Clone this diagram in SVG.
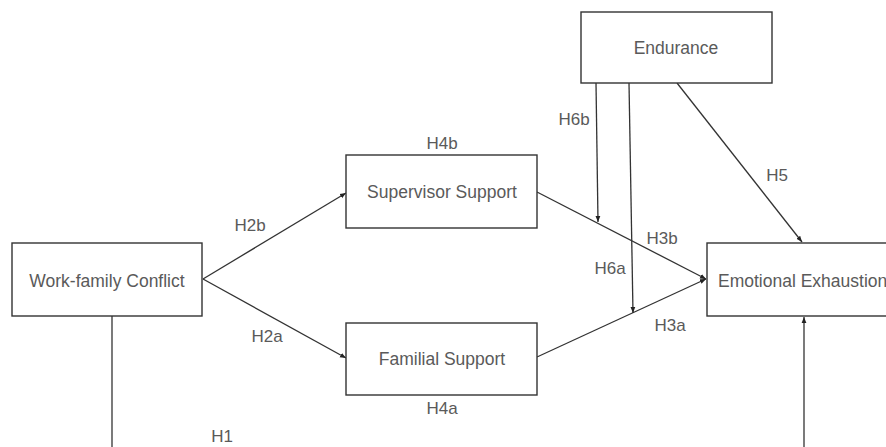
<svg xmlns="http://www.w3.org/2000/svg" width="886" height="447" viewBox="0 0 886 447">
<defs>
<marker id="ah" viewBox="0 0 10 10" refX="10" refY="5" markerWidth="6" markerHeight="6" orient="auto" markerUnits="userSpaceOnUse">
<path d="M0,1 L10,5 L0,9 Z" fill="#222"/>
</marker>
<style>
.box{fill:#fff;stroke:#333;stroke-width:1.4}
.nt{font-family:"Liberation Sans",Arial,sans-serif;font-size:17.5px;fill:#5a5a5a;text-anchor:middle;dominant-baseline:central}
.lb{font-family:"Liberation Sans",Arial,sans-serif;font-size:17px;fill:#5a5a5a;text-anchor:middle;dominant-baseline:central}
.ln{fill:none;stroke:#333;stroke-width:1.3}
.ar{fill:none;stroke:#333;stroke-width:1.3;marker-end:url(#ah)}
</style>
</defs>
<rect width="886" height="447" fill="#fff"/>
<g id="connectors">
<line class="ar" x1="203" y1="279" x2="346" y2="193"/>
<line class="ar" x1="203" y1="279" x2="346" y2="358"/>
<line class="ar" x1="537" y1="192" x2="706" y2="279"/>
<line class="ar" x1="537" y1="357" x2="706" y2="279"/>
<line class="ar" x1="596" y1="83" x2="598" y2="222"/>
<line class="ar" x1="629" y1="83" x2="633" y2="313"/>
<line class="ar" x1="677" y1="83" x2="802" y2="242"/>
<line class="ln" x1="112" y1="316" x2="112" y2="447"/>
<line class="ar" x1="804" y1="447" x2="804" y2="317"/>
</g>
<g id="labels">
<text class="lb" x="250" y="225">H2b</text>
<text class="lb" x="267" y="336">H2a</text>
<text class="lb" x="442" y="143">H4b</text>
<text class="lb" x="442" y="408">H4a</text>
<text class="lb" x="574" y="119">H6b</text>
<text class="lb" x="610" y="268">H6a</text>
<text class="lb" x="662" y="238">H3b</text>
<text class="lb" x="670" y="325">H3a</text>
<text class="lb" x="777" y="175">H5</text>
<text class="lb" x="222" y="436">H1</text>
</g>
<g id="work-family-conflict">
<rect class="box" x="12" y="243" width="190" height="73"/>
<text class="nt" x="107" y="281">Work-family Conflict</text>
</g>
<g id="supervisor-support">
<rect class="box" x="346" y="155" width="191" height="73"/>
<text class="nt" x="442" y="192">Supervisor Support</text>
</g>
<g id="familial-support">
<rect class="box" x="346" y="323" width="191" height="72"/>
<text class="nt" x="442" y="359">Familial Support</text>
</g>
<g id="endurance">
<rect class="box" x="581" y="12" width="191" height="71"/>
<text class="nt" x="676" y="48">Endurance</text>
</g>
<g id="emotional-exhaustion">
<rect class="box" x="707" y="243" width="200" height="73"/>
<text class="nt" x="718" y="281" style="text-anchor:start">Emotional Exhaustion</text>
</g>
</svg>
